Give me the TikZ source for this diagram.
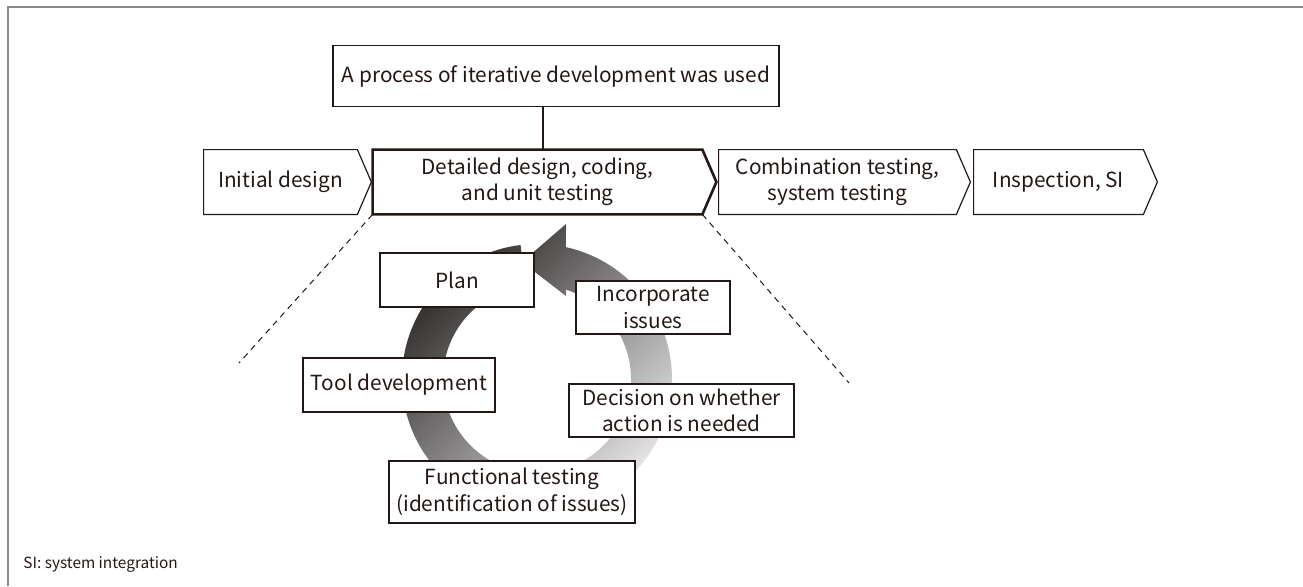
\documentclass[tikz,border=0pt]{standalone}
\usepackage{fontspec}
\setmainfont{Noto Sans CJK JP}
\definecolor{InkBlack}{HTML}{231815}
\definecolor{FrameGray}{HTML}{8C8C8C}
\definecolor{RingDark}{HTML}{2A2626}
\definecolor{RingLight}{HTML}{E8E8E8}

\begin{document}
\begin{tikzpicture}[
    x=0.5pt, y=0.5pt,
    font=\fontsize{10.4}{13.3}\selectfont,
    text=InkBlack,
    % boxes of the cycle
    box/.style={draw=InkBlack, fill=white, line width=0.6pt, align=center, inner sep=0pt},
    % text of the process stages
    stage/.style={align=center, inner sep=0pt, minimum height=32pt},
    link/.style={draw=InkBlack, line width=1pt},
    zoomline/.style={draw=InkBlack, line width=0.5pt, dash pattern=on 3pt off 2.5pt}
]
    \useasboundingbox (0,0) rectangle (1303,586);

    % --- frame ---
    \draw[FrameGray, line width=1pt] (7.5,0) -- (7.5,579.5) -- (1303,579.5);

    % --- top box ---
    \node[box, line width=0.8pt, minimum width=223pt, minimum height=30.5pt] (top) at (556,510)
        {A process of iterative development was used};

    % --- process stages ---
    \node[stage, minimum width=76.5pt]  (initial)  at (280.5,404) {Initial design};
    \node[stage, minimum width=164.5pt] (detailed) at (537.5,404) {Detailed design, coding,\\and unit testing};
    \node[stage, minimum width=118.5pt] (combo)    at (837.5,404) {Combination testing,\\system testing};
    \node[stage, minimum width=84.5pt]  (inspect)  at (1058.5,404) {Inspection, SI};

    \foreach \nm/\lw in {initial/0.6pt, detailed/1.3pt, combo/0.6pt, inspect/0.6pt} {
        \draw[InkBlack, line width=\lw] (\nm.north west) -- (\nm.north east) -- ([xshift=7pt]\nm.east)
            -- (\nm.south east) -- (\nm.south west) -- cycle;
    }

    \draw[link] ([xshift=-6.5pt]top.south) -- ([xshift=-6.5pt]top.south |- detailed.north);

    % --- zoom lines ---
    \coordinate (zl) at (239,223);
    \coordinate (zr) at (849,203);
    \draw[zoomline] (detailed.south west) -- (zl);
    \draw[zoomline] (detailed.south east) -- (zr);

    % --- ring arrow ---
    \begin{scope}[shift={(537,207)}]
        \shade[top color=RingDark, bottom color=RingLight, shading angle=45]
            (97:135) arc[start angle=97, end angle=437.6, radius=135]
            -- (29,155) -- (-15,117) -- (29,83)
            -- (432:94) arc[start angle=432, end angle=97, radius=94] -- cycle;
    \end{scope}

    % --- cycle steps ---
    \node[box, minimum width=77pt,    minimum height=27pt]   (plan)   at (457,306)   {Plan};
    \node[box, minimum width=96pt,    minimum height=27pt]   (tool)   at (399,201)   {Tool development};
    \node[box, minimum width=77pt,    minimum height=26.5pt] (incorp) at (653,278.5) {Incorporate\\issues};
    \node[box, minimum width=112.5pt, minimum height=26.5pt] (decide) at (681.5,175.5) {Decision on whether\\action is needed};
    \node[box, minimum width=123pt,   minimum height=31pt]   (func)   at (512,94)    {Functional testing\\(identification of issues)};

    % --- note ---
    \node[anchor=base west, inner sep=0pt, font=\fontsize{7.7}{9}\selectfont] (note) at (23,18)
        {SI: system integration};

\end{tikzpicture}
\end{document}
